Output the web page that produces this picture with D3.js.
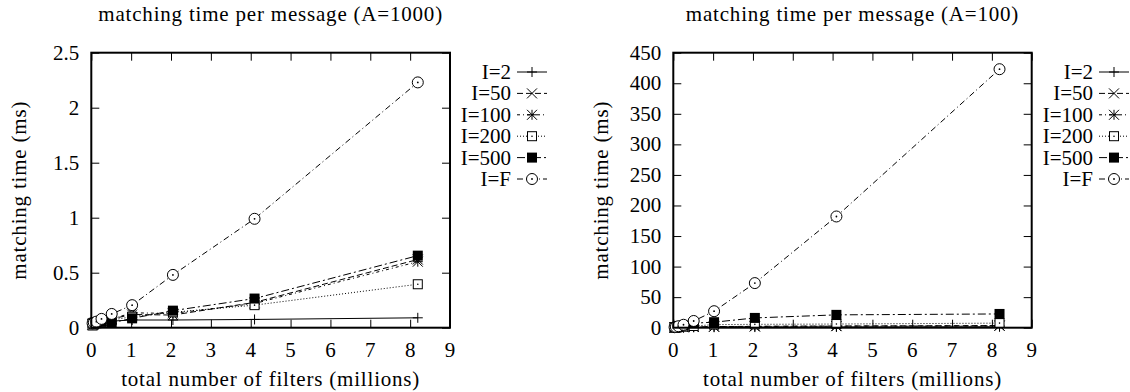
<!DOCTYPE html>
<html><head><meta charset="utf-8">
<script src="https://cdn.jsdelivr.net/npm/d3@7"></script>
</head>
<body style="margin:0"><svg id="c" width="1130" height="392"></svg>
<script>
// ---- data ----
const filters = [0.032, 0.064, 0.128, 0.256, 0.512, 1.024, 2.048, 4.096, 8.192]; // millions
const seriesNames = ["I=2", "I=50", "I=100", "I=200", "I=500", "I=F"];
const xTicks = [0,1,2,3,4,5,6,7,8,9];
const yTicksA1000 = [0, 0.5, 1, 1.5, 2, 2.5];
const yTicksA100 = [0, 50, 100, 150, 200, 250, 300, 350, 400, 450];

// A=1000 (ms)
const a1000_I2   = [0.03, 0.035, 0.04, 0.05, 0.06, 0.07, 0.07, 0.075, 0.09];
const a1000_I50  = [0.03, 0.035, 0.045, 0.06, 0.08, 0.12, 0.115, 0.23, 0.62];
const a1000_I100 = [0.03, 0.035, 0.045, 0.06, 0.08, 0.135, 0.13, 0.22, 0.60];
const a1000_I200 = [0.02, 0.03, 0.04, 0.05, 0.07, 0.10, 0.14, 0.205, 0.395];
const a1000_I500 = [0.04, 0.045, 0.05, 0.055, 0.045, 0.085, 0.155, 0.265, 0.655];
const a1000_IF   = [0.04, 0.045, 0.055, 0.08, 0.125, 0.205, 0.48, 0.99, 2.23];

// A=100 (ms)
const a100_I2   = [0.2, 0.3, 0.4, 0.5, 0.6, 0.8, 1.0, 1.2, 1.5];
const a100_I50  = [0.3, 0.4, 0.6, 0.8, 1.2, 1.8, 2.3, 2.8, 3.5];
const a100_I100 = [0.3, 0.4, 0.6, 0.8, 1.1, 1.5, 2.0, 2.5, 3.0];
const a100_I200 = [0.4, 0.6, 1.0, 1.6, 2.8, 5.0, 5.5, 6.0, 7.5];
const a100_I500 = [0.6, 1.0, 1.8, 3.5, 7.5, 9.0, 16, 21, 22.5];
const a100_IF   = [0.8, 1.3, 2.4, 4.8, 11, 27, 73, 182, 423];

// ---- styles ----
const FONT = '"Liberation Serif"';
const dashes = [null, "6,3", "3,3,1,3", "1,2", "8,3,2,3", "6,3,1,3"];
const markers = ["plus", "cross", "star", "square", "fsquare", "circle"];

const svg = d3.select("#c");

function drawMarker(g, type, x, y){
  const s = 5;
  if(type==="plus"){
    g.append("path").attr("d",`M${x-s},${y}H${x+s}M${x},${y-s}V${y+s}`).attr("stroke","#000").attr("stroke-width",1);
  } else if(type==="cross"){
    g.append("path").attr("d",`M${x-s},${y-s}L${x+s},${y+s}M${x-s},${y+s}L${x+s},${y-s}`).attr("stroke","#000").attr("stroke-width",1);
  } else if(type==="star"){
    g.append("path").attr("d",`M${x-s},${y}H${x+s}M${x},${y-s}V${y+s}M${x-s},${y-s}L${x+s},${y+s}M${x-s},${y+s}L${x+s},${y-s}`).attr("stroke","#000").attr("stroke-width",1);
  } else if(type==="square"){
    g.append("rect").attr("x",x-4.5).attr("y",y-4.5).attr("width",9).attr("height",9).attr("fill","#fff").attr("stroke","#000").attr("stroke-width",1);
    g.append("circle").attr("cx",x).attr("cy",y).attr("r",0.8).attr("fill","#000");
  } else if(type==="fsquare"){
    g.append("rect").attr("x",x-5).attr("y",y-5).attr("width",10).attr("height",10).attr("fill","#000");
  } else if(type==="circle"){
    g.append("circle").attr("cx",x).attr("cy",y).attr("r",5.5).attr("fill","#fff").attr("stroke","#000").attr("stroke-width",1);
    g.append("circle").attr("cx",x).attr("cy",y).attr("r",0.9).attr("fill","#000");
  }
}

function addText(parent, str, size){
  return parent.append("text").attr("font-size", size).style("font-family", FONT).text(str);
}

function panel(opt){
  const {left, right, top, bottom, yMax, yTicks, data, title, legendX, ylabelX} = opt;
  const x = d3.scaleLinear().domain([0,9]).range([left,right]);
  const y = d3.scaleLinear().domain([0,yMax]).range([bottom,top]);
  const g = svg.append("g");
  const tl = 8;
  // inward mirrored ticks (no labels)
  g.append("g").attr("transform",`translate(0,${bottom})`)
    .call(d3.axisTop(x).tickValues(xTicks).tickSize(tl).tickFormat(""))
    .call(s=>s.select(".domain").remove());
  g.append("g").attr("transform",`translate(0,${top})`)
    .call(d3.axisBottom(x).tickValues(xTicks).tickSize(tl).tickFormat(""))
    .call(s=>s.select(".domain").remove());
  g.append("g").attr("transform",`translate(${left},0)`)
    .call(d3.axisRight(y).tickValues(yTicks).tickSize(tl).tickFormat(""))
    .call(s=>s.select(".domain").remove());
  g.append("g").attr("transform",`translate(${right},0)`)
    .call(d3.axisLeft(y).tickValues(yTicks).tickSize(tl).tickFormat(""))
    .call(s=>s.select(".domain").remove());
  g.selectAll(".tick line").attr("stroke","#000").attr("stroke-width",1);
  g.selectAll(".tick text").remove();

  // tick labels placed from the scales
  xTicks.forEach(t=>{
    addText(g, String(t), 21).attr("x", x(t)).attr("y", bottom+29).attr("text-anchor","middle");
  });
  yTicks.forEach(t=>{
    addText(g, String(t), 21).attr("x", left-12).attr("y", y(t)).attr("dy","0.33em").attr("text-anchor","end");
  });

  // series
  const line = d3.line().x(d=>x(d[0])).y(d=>y(d[1]));
  data.forEach((vals,i)=>{
    const pts = filters.map((f,k)=>[f,vals[k]]);
    const p = g.append("path").attr("d",line(pts)).attr("fill","none").attr("stroke","#000").attr("stroke-width",1);
    if(dashes[i]) p.attr("stroke-dasharray",dashes[i]);
  });
  data.forEach((vals,i)=>{
    const mg = g.append("g");
    filters.forEach((f,k)=>drawMarker(mg, markers[i], x(f), y(vals[k])));
  });

  // border
  g.append("rect").attr("x",left).attr("y",top).attr("width",right-left).attr("height",bottom-top)
    .attr("fill","none").attr("stroke","#000").attr("stroke-width",2);

  // title & labels
  addText(g, title, 21).attr("x",(left+right)/2).attr("y",21).attr("text-anchor","middle").attr("letter-spacing","0.8px");
  addText(g, "total number of filters (millions)", 21).attr("x",(left+right)/2).attr("y",386)
    .attr("text-anchor","middle").attr("letter-spacing","0.8px");
  addText(g, "matching time (ms)", 21).attr("transform",`translate(${ylabelX},${(top+bottom)/2}) rotate(-90)`)
    .attr("text-anchor","middle").attr("dy","0.33em").attr("letter-spacing","0.8px");

  // legend
  seriesNames.forEach((n,i)=>{
    const ly = 72 + i*21.4;
    addText(g, n, 21).attr("x",legendX).attr("y",ly).attr("dy","0.33em").attr("text-anchor","end");
    const l = g.append("line").attr("x1",legendX+6).attr("x2",legendX+36).attr("y1",ly).attr("y2",ly)
      .attr("stroke","#000").attr("stroke-width",1);
    if(dashes[i]) l.attr("stroke-dasharray",dashes[i]);
    drawMarker(g, markers[i], legendX+21, ly);
  });
}

panel({left:91.3, right:450, top:52.7, bottom:327.7, yMax:2.5, yTicks:yTicksA1000,
  data:[a1000_I2,a1000_I50,a1000_I100,a1000_I200,a1000_I500,a1000_IF],
  title:"matching time per message (A=1000)", legendX:511, ylabelX:19});
panel({left:673.3, right:1031.7, top:52.7, bottom:327.7, yMax:450, yTicks:yTicksA100,
  data:[a100_I2,a100_I50,a100_I100,a100_I200,a100_I500,a100_IF],
  title:"matching time per message (A=100)", legendX:1093, ylabelX:601});
</script></body></html>
